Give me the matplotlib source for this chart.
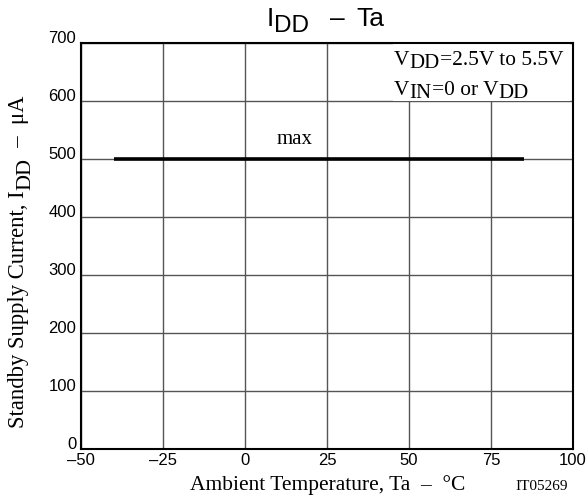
import numpy as np
import matplotlib
matplotlib.use("Agg")
import matplotlib.pyplot as plt
from matplotlib.patches import Rectangle

W, H = 588, 499

# data
ta = [-40, 85]
idd_max = [500, 500]
xticks = [-50, -25, 0, 25, 50, 75, 100]
xticklabels = ['\u201350', '\u201325', '0', '25', '50', '75', '100']
yticks = [0, 100, 200, 300, 400, 500, 600, 700]

fig = plt.figure(figsize=(W / 100, H / 100), dpi=100)
ax = fig.add_axes([81 / W, 1 - 449 / H, 492 / W, 406 / H])

ax.plot(ta, idd_max, color='black', linewidth=2.6, solid_capstyle='butt', zorder=4)
ax.text(15, 525, 'max', family='Liberation Serif', fontsize=15, ha='center', va='baseline')

ax.set_xlim(-50, 100)
ax.set_ylim(0, 700)
ax.set_xticks(xticks)
ax.set_yticks(yticks)
ax.set_xticklabels(xticklabels)
ax.tick_params(length=0, labelsize=12)
ax.tick_params(axis='x', pad=3)
ax.tick_params(axis='y', pad=3.5)
for lab in ax.get_xticklabels() + ax.get_yticklabels():
    lab.set_family('Liberation Sans')
for lab in ax.get_yticklabels():
    lab.set_verticalalignment('baseline')
ax.grid(True, color='#555555', linewidth=1.0)
ax.set_axisbelow(True)
for s in ax.spines.values():
    s.set_linewidth(1.5)

# white patch behind the condition text
ax.add_patch(Rectangle(((393 - 81) / 492, (449 - 101) / 406), (570 - 393) / 492, (101 - 44) / 406,
                       transform=ax.transAxes, facecolor='white', edgecolor='none', zorder=2))

fig.canvas.draw()
renderer = fig.canvas.get_renderer()


def chain(parts, x0, y0, family, rotation=0):
    # parts: (string, fontsize, drop in px); x0, y0 in image pixels (baseline start)
    pos = 0.0
    for s, size, drop in parts:
        if rotation == 0:
            x, y = x0 + pos, H - y0 - drop
        else:
            x, y = x0 + drop, H - y0 + pos
        t = fig.text(x / W, y / H, s, fontsize=size, family=family, rotation=rotation,
                     rotation_mode='anchor', ha='left', va='baseline', zorder=5)
        bb = t.get_window_extent(renderer)
        pos += bb.width if rotation == 0 else bb.height


serif = 'Liberation Serif'
sans = 'Liberation Sans'

# condition text
chain([('V', 15.4, 0), ('DD', 15, 3), ('=2.5V to 5.5V', 15.4, 0)], 394, 65, serif)
chain([('V', 15.4, 0), ('IN', 15, 3), ('=0 or V', 15.4, 0), ('DD', 15, 3)], 394, 95, serif)

# title
chain([('I', 19, 0), ('DD', 17.5, 6)], 267, 26, sans)
fig.text(330 / W, 1 - 26 / H, '\u2013', fontsize=19, family=sans, ha='left', va='baseline')
fig.text(356 / W, 1 - 26 / H, 'Ta', fontsize=19, family=sans, ha='left', va='baseline')

# axis labels
chain([('Ambient Temperature, Ta  \u2013  \u00b0C', 15.5, 0)], 190, 490, serif)
chain([('Standby Supply Current, I', 16.3, 0), ('DD', 16, 6), ('  \u2013  \u03bcA', 16.3, 0)],
      24, 428, serif, rotation=90)

fig.text(568 / W, 1 - 490 / H, 'IT05269', family=serif, fontsize=11, ha='right', va='baseline')

fig.savefig('out.png', dpi=100)
